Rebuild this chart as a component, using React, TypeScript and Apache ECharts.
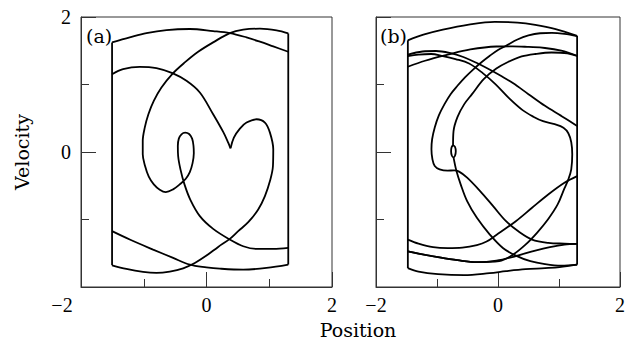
import React, { useEffect, useRef } from "react";
import * as echarts from "echarts";

// ---- Panel (a): impact walls and trajectory pieces (position, velocity) ----
const wallLeftA = [[-1.505, 1.624], [-1.505, -1.678]];
const wallRightA = [[1.303, 1.757], [1.303, -1.668]];
const topArcA = [[-1.505, 1.624], [-1.223, 1.698], [-0.957, 1.762], [-0.638, 1.807], [-0.266, 1.822], [0.106, 1.792], [0.372, 1.762], [0.638, 1.698], [0.851, 1.634], [1.064, 1.564], [1.303, 1.485]];
const cuspApproachA = [[-1.505, 1.153], [-1.33, 1.228], [-1.064, 1.262], [-0.798, 1.243], [-0.543, 1.168], [-0.319, 1.054], [-0.106, 0.881], [0.106, 0.559], [0.266, 0.297], [0.346, 0.139], [0.383, 0.054]];
const heartLobeA = [[0.383, 0.054], [0.436, 0.213], [0.532, 0.347], [0.638, 0.436], [0.798, 0.485], [0.931, 0.436], [1.011, 0.287], [1.064, 0.04], [1.059, -0.208], [1.011, -0.431], [0.931, -0.653], [0.824, -0.851], [0.665, -1.04], [0.505, -1.173], [0.372, -1.287], [0.186, -1.406], [0, -1.535], [-0.186, -1.644], [-0.372, -1.723], [-0.585, -1.772], [-0.798, -1.792], [-1.011, -1.777], [-1.277, -1.733], [-1.505, -1.678]];
const bottomSweepA = [[1.303, -1.668], [0.957, -1.718], [0.585, -1.743], [0.213, -1.728], [0, -1.708], [-0.266, -1.668], [-0.532, -1.569], [-0.851, -1.446], [-1.223, -1.297], [-1.505, -1.173]];
const loopPathA = [[1.303, -1.421], [1.064, -1.436], [0.798, -1.436], [0.585, -1.396], [0.372, -1.297], [0.106, -1.139], [-0.106, -0.95], [-0.255, -0.713], [-0.351, -0.48], [-0.415, -0.257], [-0.452, -0.059], [-0.457, 0.089], [-0.441, 0.198], [-0.399, 0.262], [-0.34, 0.287], [-0.277, 0.267], [-0.229, 0.198], [-0.207, 0.089], [-0.202, -0.02], [-0.223, -0.168], [-0.266, -0.297], [-0.33, -0.396], [-0.426, -0.48], [-0.532, -0.554], [-0.649, -0.594], [-0.745, -0.559], [-0.84, -0.48], [-0.92, -0.366], [-0.979, -0.208], [-1.016, -0.035], [-1.016, 0.163], [-0.984, 0.361], [-0.926, 0.559], [-0.84, 0.757], [-0.718, 0.955], [-0.543, 1.158], [-0.346, 1.327], [-0.133, 1.485], [0.106, 1.624], [0.372, 1.762], [0.585, 1.812], [0.851, 1.827], [1.117, 1.802], [1.303, 1.757]];

// ---- Panel (b) ----
const wallLeftB = [[-1.478, 1.655], [-1.478, -1.721]];
const wallRightB = [[1.297, 1.719], [1.297, -1.669]];
const topArcB = [[-1.478, 1.655], [-1.223, 1.738], [-0.904, 1.813], [-0.478, 1.887], [-0.054, 1.927], [0.319, 1.917], [0.611, 1.883], [0.93, 1.823], [1.297, 1.719]];
const outerLoopB = [[1.297, -1.361], [1.089, -1.357], [0.823, -1.346], [0.558, -1.297], [0.344, -1.183], [0.132, -1.025], [-0.08, -0.802], [-0.293, -0.579], [-0.506, -0.38], [-0.638, -0.291], [-0.718, -0.272], [-0.825, -0.276], [-0.957, -0.257], [-1.037, -0.208], [-1.075, -0.108], [-1.091, 0.04], [-1.08, 0.189], [-1.037, 0.363], [-0.968, 0.545], [-0.877, 0.709], [-0.777, 0.857], [-0.665, 0.981], [-0.537, 1.11], [-0.399, 1.229], [-0.266, 1.333], [-0.134, 1.426], [0, 1.511], [0.132, 1.575], [0.319, 1.667], [0.499, 1.727], [0.691, 1.759], [0.882, 1.764], [1.089, 1.749], [1.297, 1.716]];
const innerArcB = [[-0.737, 0.1], [-0.729, 0.308], [-0.665, 0.516], [-0.553, 0.709], [-0.426, 0.857], [-0.234, 1.08], [-0.027, 1.236], [0.164, 1.333], [0.388, 1.415], [0.611, 1.452], [0.877, 1.474], [1.137, 1.462], [1.297, 1.422]];
const smallRingB = [[-0.737, 0.1], [-0.705, 0.077], [-0.692, 0.01], [-0.705, -0.056], [-0.729, -0.079], [-0.756, -0.056], [-0.769, 0.01], [-0.761, 0.07], [-0.737, 0.1]];
const ringDropB = [[-0.729, -0.079], [-0.681, -0.282], [-0.612, -0.479], [-0.506, -0.728], [-0.346, -0.975], [-0.134, -1.223], [0.08, -1.422], [0.292, -1.535], [0.531, -1.617], [0.77, -1.661], [1.035, -1.684], [1.297, -1.669]];
const flatArcB = [[-1.478, 1.263], [-1.196, 1.352], [-0.825, 1.441], [-0.453, 1.519], [-0.027, 1.563], [0.239, 1.566], [0.504, 1.556], [0.77, 1.541], [1.037, 1.501], [1.297, 1.426]];
const rightLobeB = [[-1.478, 1.422], [-1.303, 1.444], [-1.096, 1.452], [-0.904, 1.422], [-0.697, 1.377], [-0.474, 1.311], [-0.25, 1.169], [-0.043, 1.006], [0.18, 0.798], [0.403, 0.62], [0.579, 0.523], [0.738, 0.456], [0.93, 0.412], [1.073, 0.36], [1.153, 0.278], [1.201, 0.144], [1.217, -0.034], [1.201, -0.257], [1.153, -0.406], [1.089, -0.539], [0.978, -0.777], [0.818, -1.0], [0.643, -1.193], [0.451, -1.372], [0.244, -1.521], [0.021, -1.617], [-0.346, -1.632], [-0.665, -1.602], [-0.984, -1.557], [-1.303, -1.505], [-1.478, -1.471]];
const descentB = [[-1.478, 1.444], [-1.239, 1.489], [-1.016, 1.496], [-0.793, 1.467], [-0.569, 1.407], [-0.346, 1.318], [-0.139, 1.222], [0.053, 1.125], [0.244, 1.021], [0.499, 0.857], [0.77, 0.684], [1.037, 0.535], [1.297, 0.386]];
const lowReturnB = [[1.297, -1.361], [1.089, -1.371], [0.85, -1.408], [0.611, -1.46], [0.292, -1.542], [-0.027, -1.609], [-0.346, -1.632], [-0.665, -1.602], [-0.984, -1.557], [-1.303, -1.505], [-1.478, -1.471]];
const riseToWallB = [[-1.478, -1.297], [-1.303, -1.357], [-1.064, -1.409], [-0.825, -1.423], [-0.585, -1.416], [-0.346, -1.379], [-0.187, -1.327], [-0.027, -1.23], [0.292, -1.025], [0.558, -0.826], [0.823, -0.629], [1.089, -0.455], [1.297, -0.357]];
const bottomArcB = [[-1.478, -1.721], [-1.303, -1.773], [-0.984, -1.81], [-0.558, -1.825], [-0.139, -1.795], [0.132, -1.765], [0.451, -1.736], [0.77, -1.721], [1.01, -1.706], [1.297, -1.669]];

const axisTicks = { min: -2, max: 2, interval: 2 };
const panelTags = ["(a)", "(b)"];
const xName = "Position";
const yName = "Velocity";

const INK = "#000";
const FRAME = "#333";
const DIGITS = "'Liberation Serif', serif";
const WORDS = "'DejaVu Serif', serif";

const fmt = (v: number) => (v < 0 ? "\u2212" + Math.abs(v) : String(v));

function curve(data: number[][], panel: number, smooth: number | boolean = 0.35) {
  return {
    type: "line",
    xAxisIndex: panel,
    yAxisIndex: panel,
    data,
    showSymbol: false,
    smooth,
    silent: true,
    lineStyle: { color: INK, width: 1.8 },
  };
}

function baseAxis() {
  return {
    type: "value",
    min: axisTicks.min,
    max: axisTicks.max,
    interval: axisTicks.interval,
    axisLine: { show: true, onZero: false, lineStyle: { color: FRAME, width: 1 } },
    axisTick: { show: true, inside: true, length: 15, lineStyle: { color: FRAME, width: 1 } },
    minorTick: { show: true, splitNumber: 2, length: 8, lineStyle: { color: FRAME, width: 1 } },
    splitLine: { show: false },
    minorSplitLine: { show: false },
  };
}

function buildOption() {
  const labelStyle = { color: INK, fontFamily: DIGITS, fontSize: 20, lineHeight: 18 };
  return {
    animation: false,
    backgroundColor: "#fff",
    grid: [
      { left: 81, top: 17, width: 251, height: 270, show: true, borderColor: FRAME, borderWidth: 1 },
      { left: 376, top: 17, width: 251, height: 270, show: true, borderColor: FRAME, borderWidth: 1 },
    ],
    xAxis: [
      {
        ...baseAxis(),
        gridIndex: 0,
        axisLabel: {
          ...labelStyle,
          margin: 9,
          showMinLabel: true,
          showMaxLabel: true,
          formatter: (v: number) => (v === axisTicks.min ? "{shift|" + fmt(v) + "}" : fmt(v)),
          rich: { shift: { ...labelStyle, padding: [0, 38, 0, 0] } },
        },
      },
      {
        ...baseAxis(),
        gridIndex: 1,
        axisLabel: { ...labelStyle, margin: 9, showMinLabel: true, showMaxLabel: true, formatter: fmt },
      },
    ],
    yAxis: [
      {
        ...baseAxis(),
        gridIndex: 0,
        name: yName,
        nameLocation: "middle",
        nameGap: 50,
        nameRotate: 90,
        nameTextStyle: { color: INK, fontFamily: WORDS, fontSize: 19 },
        axisLabel: {
          ...labelStyle,
          margin: 10,
          showMinLabel: true,
          showMaxLabel: true,
          formatter: (v: number) => (v === axisTicks.min ? "" : fmt(v)),
        },
      },
      { ...baseAxis(), gridIndex: 1, axisLabel: { show: false } },
    ],
    graphic: [
      { type: "text", x: 86, y: 36, style: { text: panelTags[0], fill: INK, font: "19px " + WORDS, align: "left", verticalAlign: "middle" } },
      { type: "text", x: 380, y: 36, style: { text: panelTags[1], fill: INK, font: "19px " + WORDS, align: "left", verticalAlign: "middle" } },
      { type: "text", x: 358, y: 330, style: { text: xName, fill: INK, font: "19px " + WORDS, align: "center", verticalAlign: "middle" } },
    ],
    series: [
      curve(wallLeftA, 0, false),
      curve(wallRightA, 0, false),
      curve(topArcA, 0),
      curve(cuspApproachA, 0),
      curve(heartLobeA, 0),
      curve(bottomSweepA, 0),
      curve(loopPathA, 0),
      curve(wallLeftB, 1, false),
      curve(wallRightB, 1, false),
      curve(topArcB, 1),
      curve(outerLoopB, 1),
      curve(innerArcB, 1),
      curve(smallRingB, 1),
      curve(ringDropB, 1),
      curve(flatArcB, 1),
      curve(rightLobeB, 1),
      curve(descentB, 1),
      curve(lowReturnB, 1),
      curve(riseToWallB, 1),
      curve(bottomArcB, 1),
    ],
  };
}

export default function App() {
  const ref = useRef<HTMLDivElement>(null);
  useEffect(() => {
    if (!ref.current) return;
    const chart = echarts.init(ref.current, null, { renderer: "svg" });
    chart.setOption(buildOption() as any);
    return () => chart.dispose();
  }, []);
  return (
    <div
      ref={ref}
      style={{ position: "fixed", left: 0, top: 0, width: 628, height: 346, background: "#fff" }}
    />
  );
}
